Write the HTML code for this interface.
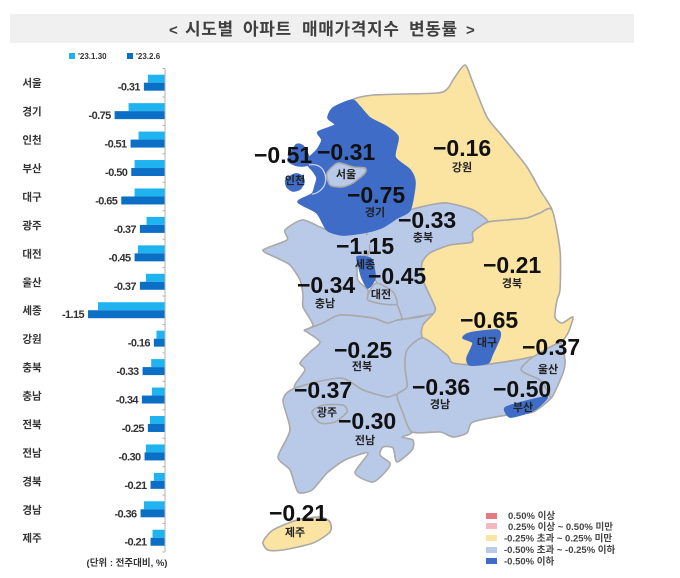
<!DOCTYPE html>
<html lang="ko">
<head>
<meta charset="utf-8">
<title>시도별 아파트 매매가격지수 변동률</title>
<style>
html,body{margin:0;padding:0;background:#fff;}
body{width:680px;height:578px;overflow:hidden;}
svg{display:block;font-family:"Liberation Sans","Noto Sans CJK KR",sans-serif;}
.soft{filter:blur(0.35px);}
</style>
</head>
<body>
<svg id="chart" width="680" height="578" viewBox="0 0 680 578" xmlns="http://www.w3.org/2000/svg">
  <rect x="10" y="14" width="624" height="29" fill="#f0f0f0"/>
  <g class="soft">
    <text y="35" font-size="17" font-weight="700" fill="#3f3f3f" letter-spacing="0.6" style="font-family:'Noto Sans CJK KR',sans-serif"><tspan x="169" font-size="15" style="font-family:'Liberation Sans',sans-serif">&lt;</tspan><tspan x="185">시도별</tspan><tspan x="243">아파트</tspan><tspan x="302">매매가격지수</tspan><tspan x="409">변동률</tspan><tspan x="466" font-size="15" style="font-family:'Liberation Sans',sans-serif">&gt;</tspan></text>
  </g>

  <rect x="69" y="53" width="6" height="6" fill="#1fb4f0"/>
  <text x="78" y="59" font-size="8" font-weight="700" fill="#333">'23.1.30</text>
  <rect x="127" y="53" width="6" height="6" fill="#0c6fc6"/>
  <text x="136" y="59" font-size="8" font-weight="700" fill="#333">'23.2.6</text>

  <g id="bars" class="soft"></g>
  <text x="127" y="566" text-anchor="middle" font-size="9.5" font-weight="700" fill="#333">(단위 : 전주대비, %)</text>

  <g id="map" class="soft"></g>
  <g id="map-labels"></g>

  <g font-size="9.5" font-weight="700" fill="#444">
    <rect x="486" y="513" width="11" height="6" fill="#e57a80"/>
    <text x="508" y="519">0.50% 이상</text>
    <rect x="486" y="523" width="11" height="6" fill="#f4b9c0"/>
    <text x="508" y="530">0.25% 이상 ~ 0.50% 미만</text>
    <rect x="486" y="535" width="11" height="6" fill="#fbe3a1"/>
    <text x="504" y="541.5">-0.25% 초과 ~ 0.25% 미만</text>
    <rect x="486" y="547" width="11" height="6" fill="#b9c9e8"/>
    <text x="504" y="553">-0.50% 초과 ~ -0.25% 이하</text>
    <rect x="486" y="558" width="11" height="6" fill="#3f6cc6"/>
    <text x="504" y="564.5">-0.50% 이하</text>
  </g>
</svg>

<script>
// Chart data
const categories = ['서울','경기','인천','부산','대구','광주','대전','울산','세종','강원','충북','충남','전북','전남','경북','경남','제주'];
const prevWeekValues = [-0.25,-0.54,-0.39,-0.45,-0.45,-0.27,-0.40,-0.28,-1.00,-0.12,-0.20,-0.19,-0.22,-0.28,-0.16,-0.31,-0.18];
const thisWeekValues = [-0.31,-0.75,-0.51,-0.50,-0.65,-0.37,-0.45,-0.37,-1.15,-0.16,-0.33,-0.34,-0.25,-0.30,-0.21,-0.36,-0.21];

const NS = 'http://www.w3.org/2000/svg';
function make(tag, attrs, parent, text) {
  const el = document.createElementNS(NS, tag);
  for (const k in attrs) el.setAttribute(k, attrs[k]);
  if (text !== undefined) el.textContent = text;
  parent.appendChild(el);
  return el;
}

// Axis functions
function xScale(v) { return 164.5 + v * 66.5; }
function yBand(i) { return 74.7 + i * 28.44; }
const BAR_H = 8;

const barsG = document.getElementById('bars');
const axis = make('line', {x1:165, x2:165, y1:68.5, y2:552, stroke:'#b0b0b0', 'stroke-width':1}, barsG);



for (let i = 0; i <= categories.length; i++) {
  const ty = yBand(i) - 6.2;
  const tick = make('line', {x1:162.5, x2:165, y1:ty, y2:ty, stroke:'#b0b0b0', 'stroke-width':1}, barsG);
  
  
}

categories.forEach(function (name, i) {
  const y = yBand(i);
  const label = make('text', {x:32, y:y + 12, 'text-anchor':'middle', 'font-size':10.5, 'font-weight':700, fill:'#333'}, barsG, name);
  
  

  const x0 = xScale(prevWeekValues[i]);
  const prevBar = make('rect', {x:x0, y:y, width:xScale(0) - x0, height:BAR_H, fill:'#1fb4f0'}, barsG);
  
  

  const x1 = xScale(thisWeekValues[i]);
  const curBar = make('rect', {x:x1, y:y + BAR_H, width:xScale(0) - x1, height:BAR_H, fill:'#0c6fc6'}, barsG);
  
  

  const val = make('text', {x:x1 - 4, y:y + 16, 'text-anchor':'end', 'font-size':11, 'font-weight':700, 'letter-spacing':-0.6, fill:'#333'}, barsG, thisWeekValues[i].toFixed(2));
  
  
});

// Map colouring follows the value bands in the legend
function bandFill(v) {
  if (v >= 0.5) return '#e57a80';
  if (v >= 0.25) return '#f4b9c0';
  if (v > -0.25) return '#fbe3a1';
  if (v > -0.5) return '#b9c9e8';
  return '#3f6cc6';
}
function valueOf(name) { return thisWeekValues[categories.indexOf(name)]; }

// Region outlines (geography only; fill comes from the data)
const regionShapes = [
  ['강원','gangwon','352,100 373,95 437,93 448,88 453,80 465,65 473,83 487,117 503,137 527,167 540,190 552,210 540,213 527,218 507,220 488,222 473,210 447,203 430,205 410,210 415,183 410,170 395,157 398,137 387,127 370,118 360,107'],
  ['충남','chungnam','263,250 287,240 285,230 302,220 320,227 327,230 343,235 367,232 370,250 358,262 358,280 368,290 368,300 383,304 397,304 402,318 398,320 387,323 373,318 340,315 323,323 305,330 313,325 303,307 303,295 300,280 290,265 277,258'],
  ['충북','chungbuk','367,232 383,227 397,218 410,210 430,205 447,203 473,210 488,222 473,232 472,242 450,245 430,253 422,263 423,280 435,307 433,314 420,316 400,320 402,318 397,304 393,292 377,283 372,270 363,263 370,250'],
  ['전북','jeonbuk','305,330 323,323 340,315 373,318 387,323 398,320 420,317 433,314 423,325 423,338 407,350 405,367 407,387 397,395 387,397 363,390 340,378 295,388 305,370 300,363 310,352 320,342 307,332'],
  ['전남','jeonnam','295,388 340,378 363,390 387,397 397,395 403,413 412,432 402,437 413,440 412,450 397,462 393,448 383,447 380,455 390,463 387,470 373,482 355,473 368,453 345,460 327,473 312,490 298,492 290,470 278,457 290,430 283,400'],
  ['경북','gyeongbuk','488,222 507,220 527,218 540,213 552,210 560,250 560,290 557,300 555,317 562,323 573,317 568,333 560,343 533,357 517,360 480,365 453,363 447,355 423,338 423,325 433,314 435,307 423,280 422,263 430,253 450,245 472,242 473,232'],
  ['경남','gyeongnam','423,338 447,355 453,363 480,365 517,360 533,357 522,367 523,372 540,380 547,390 552,397 533,412 507,415 473,422 467,433 453,437 440,432 412,432 403,413 397,395 407,387 405,367 407,350'],
  ['울산','ulsan','533,357 560,343 565,360 563,373 552,397 547,390 540,380 523,372 522,367'],
  ['경기','gyeonggi','352,100 333,108 328,118 335,125 318,132 322,140 317,150 310,157 308,165 313,171 317,178 315,186 312,194 298,202 317,213 327,230 343,235 367,232 383,227 397,218 410,210 415,183 410,170 395,157 398,137 387,127 370,118 360,107'],
  ['서울','seoul','327,173 338,163 353,167 365,168 365,173 353,183 342,187 330,185'],
  ['인천','incheon-north','296,145 303,146 309,157 310,164 303,166 295,165 288,160'],
  ['인천','incheon-island','295,174 302,176 304,182 300,189 293,191 287,187 286,180'],
  ['대구','daegu','463,338 470,333 497,330 500,337 492,355 488,363 470,365 467,358 473,343'],
  ['부산','busan','505,408 523,402 547,397 537,408 527,413 510,417'],
  ['세종','sejong','357,257 366,257 372,260 375,278 368,288 362,278 359,267'],
  ['대전','daejeon','370,290 377,283 393,292 397,304 383,304 368,300'],
  ['광주','gwangju','312,412 323,405 343,405 347,412 335,422 320,423'],
  ['제주','jeju','263,542 273,530 297,520 320,517 330,522 330,532 313,543 283,550 268,550']
];

function smoothClosed(str) {
  const p = str.split(' ').map(function (s) { return s.split(',').map(Number); });
  const n = p.length;
  let d = 'M' + p[0][0] + ' ' + p[0][1];
  for (let i = 0; i < n; i++) {
    const a = p[(i - 1 + n) % n], b = p[i], c = p[(i + 1) % n], e = p[(i + 2) % n];
    const k = 0.12;
    d += 'C' + (b[0] + (c[0] - a[0]) * k).toFixed(1) + ' ' + (b[1] + (c[1] - a[1]) * k).toFixed(1) +
         ' ' + (c[0] - (e[0] - b[0]) * k).toFixed(1) + ' ' + (c[1] - (e[1] - b[1]) * k).toFixed(1) +
         ' ' + c[0] + ' ' + c[1];
  }
  return d + 'Z';
}

const mapG = document.getElementById('map');
regionShapes.forEach(function (r, idx) {
  const v = valueOf(r[0]);
  const fill = bandFill(v);
  const region = make('path', {d:smoothClosed(r[2]), fill:fill, stroke: v <= -0.5 ? fill : '#a9a9a9', 'stroke-width':1.6, 'stroke-linejoin':'round'}, mapG);
  
  
  if (r[1] === 'chungbuk') {
    // The Chungbuk/Chungnam boundary north of Sejong is not drawn in the reference
    const cover = make('path', {d:'M367 235C372 245 362 252 357 256', fill:'none', stroke:bandFill(valueOf('충북')), 'stroke-width':3}, mapG);
    
    
  }
});
const coastLine = make('path', {d:'M309 165C314 164 320 165 323 170C326 175 327 180 324 186C321 191 316 194 312 194', fill:'none', stroke:'#c5d0ea', 'stroke-width':1.3}, mapG);



// Map label anchors: region, value left x, value baseline, name centre x, name baseline
const labelAnchors = [
  ['인천',254,163,295,184], ['서울',317,160,346,178], ['강원',433,156,462,171],
  ['경기',347,203,375,216], ['충북',398,228,423,241], ['세종',336,254,365,268],
  ['경북',483,273,512,287], ['대전',368,284,381,298], ['충남',297,293,325,307],
  ['대구',460,328,487,346], ['전북',334,358,362,370], ['울산',522,355,548,373],
  ['광주',294,398,327,416], ['경남',412,395,440,408], ['부산',493,397,523,411],
  ['전남',338,429,365,444], ['제주',269,521,295,536]
];

const labelsG = document.getElementById('map-labels');
labelAnchors.forEach(function (a) {
  const val = valueOf(a[0]);
  const valueText = make('text', {x:a[1], y:a[2], 'font-size':23, 'font-weight':700, fill:'#111'}, labelsG, '\u2212' + Math.abs(val).toFixed(2));
  
  
  const nameText = make('text', {x:a[3], y:a[4], 'text-anchor':'middle', 'font-size':11, 'font-weight':700, fill:'#222'}, labelsG, a[0]);
  
  
});
</script>
</body>
</html>
